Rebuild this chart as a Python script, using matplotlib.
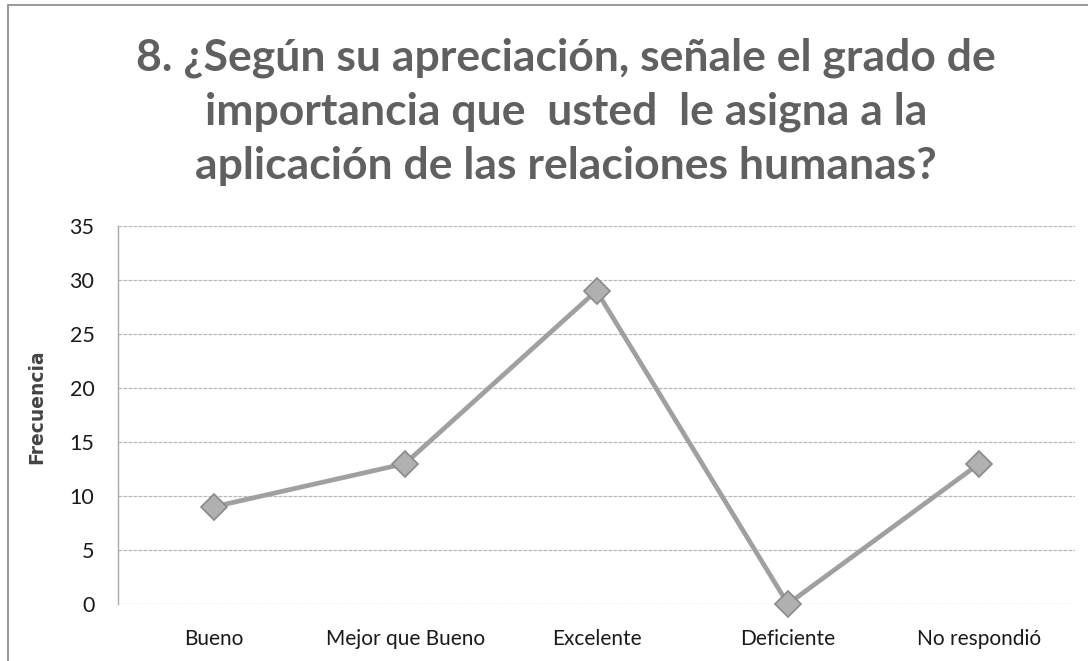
import matplotlib
matplotlib.use("Agg")
import matplotlib.pyplot as plt
from matplotlib.patches import Rectangle

categories = ["Bueno", "Mejor que Bueno", "Excelente", "Deficiente", "No respondió"]
values = [9, 13, 29, 0, 13]
yticks = [0, 5, 10, 15, 20, 25, 30, 35]
title = "8. ¿Según su apreciación, señale el grado de\nimportancia que  usted  le asigna a la\naplicación de las relaciones humanas?"
ylabel = "Frecuencia"

W, H = 1088, 661
fig = plt.figure(figsize=(W / 100, H / 100), dpi=100)
fig.patch.set_facecolor("white")

# plot area in pixels
left, right, top, bottom = 118, 1075, 226, 604
ax = fig.add_axes([left / W, 1 - bottom / H, (right - left) / W, (bottom - top) / H])

x = list(range(len(categories)))
ax.plot(x, values, color="#a0a0a0", lw=3.4, marker="D", markersize=13,
        markerfacecolor="#b0b0b0", markeredgecolor="#8a8a8a", markeredgewidth=1.2,
        solid_joinstyle="miter", zorder=3, clip_on=False)

ax.set_xlim(-0.5, len(categories) - 0.5)
ax.set_ylim(0, 35)
ax.set_yticks(yticks)
ax.set_xticks(x)
ax.set_xticklabels(categories, fontsize=15, family="Lato", color="#1a1a1a")
ax.set_yticklabels([str(v) for v in yticks], fontsize=15.5, family="Lato", color="#1a1a1a")
ax.tick_params(length=0)
ax.tick_params(axis="y", pad=17)
ax.tick_params(axis="x", pad=18)
ax.grid(axis="y", color="#b8b8b8", lw=0.9, ls=(0, (3, 1)))
ax.set_axisbelow(True)
for s in ["top", "right", "bottom"]:
    ax.spines[s].set_visible(False)
ax.spines["left"].set_color("#aaaaaa")
ax.spines["left"].set_linewidth(1.0)

ax.set_ylabel(ylabel, fontsize=13.5, fontweight="bold", family="DejaVu Sans", color="#444444")
ax.yaxis.set_label_coords((46 - left) / (right - left), 1 - (407 - top) / (bottom - top))

fig.text(0.52, 1 - 112 / H, title, ha="center", va="center", fontsize=32,
         fontweight="bold", family="Lato", color="#606060", linespacing=1.42)

# outer chart frame
fig.add_artist(Rectangle((8 / W, -0.01), 1.2, (661 - 5) / H + 0.01, transform=fig.transFigure,
                         fill=False, edgecolor="#888888", lw=1.2))

fig.savefig("out.png", dpi=100, facecolor="white")
